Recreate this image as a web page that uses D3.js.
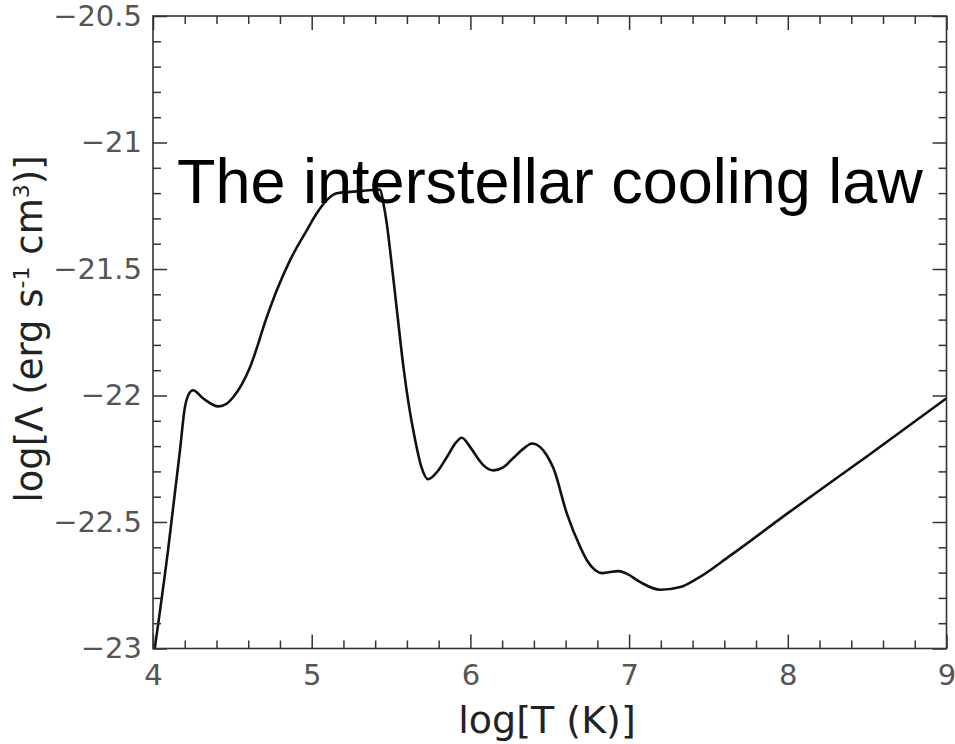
<!DOCTYPE html>
<html>
<head>
<meta charset="utf-8">
<script src="https://cdn.jsdelivr.net/npm/d3@7"></script>
<style>
  html, body { margin: 0; padding: 0; background: #fff; }
  svg { display: block; }
</style>
</head>
<body>
<svg id="chart" width="955" height="744"></svg>
<script>
// ---- Data ----
const logT = [4.0, 4.095, 4.17, 4.20, 4.225, 4.252, 4.317, 4.412, 4.465, 4.506, 4.612, 4.717, 4.78, 4.864, 4.969, 5.032, 5.095, 5.158, 5.242, 5.326, 5.431, 5.452, 5.473, 5.494, 5.537, 5.578, 5.61, 5.65, 5.69, 5.734, 5.789, 5.852, 5.904, 5.946, 5.999, 6.041, 6.083, 6.146, 6.209, 6.272, 6.335, 6.388, 6.44, 6.482, 6.524, 6.608, 6.692, 6.735, 6.787, 6.829, 6.934, 6.987, 7.071, 7.197, 7.323, 7.428, 7.639, 7.998, 8.5, 9.0];
const logLambda = [-23.05, -22.61, -22.217, -22.05, -21.995, -21.979, -22.012, -22.043, -22.032, -22.006, -21.887, -21.69, -21.584, -21.465, -21.347, -21.28, -21.228, -21.201, -21.195, -21.191, -21.186, -21.241, -21.32, -21.426, -21.663, -21.887, -22.03, -22.17, -22.28, -22.331, -22.303, -22.243, -22.19, -22.167, -22.204, -22.243, -22.276, -22.296, -22.283, -22.246, -22.21, -22.19, -22.204, -22.237, -22.289, -22.467, -22.599, -22.652, -22.691, -22.702, -22.694, -22.705, -22.738, -22.768, -22.757, -22.724, -22.632, -22.466, -22.24, -22.011];
const xTickValues = [4, 5, 6, 7, 8, 9];
const yTickValues = [-23, -22.5, -22, -21.5, -21, -20.5];
const yTickLabels = ["\u221223", "\u221222.5", "\u221222", "\u221221.5", "\u221221", "\u221220.5"];
const titleText = "The interstellar cooling law";
const xLabel = "log[T (K)]";

(function () {
const svg = d3.select("#chart");
const pL = 153, pR = 946.5, pT = 16, pB = 648.5;
const x = d3.scaleLinear().domain([4, 9]).range([pL, pR]);
const y = d3.scaleLinear().domain([-23, -20.5]).range([pB, pT]);

const axisColor = "#333";
const majorLen = 14, minorLen = 8;
const tickFont = 29;

const xMinor = d3.range(4, 9.0001, 0.2).map(v => +v.toFixed(2)).filter(v => Math.abs(v - Math.round(v)) > 1e-6);
const yMinor = d3.range(-23, -20.4999, 0.1).map(v => +v.toFixed(2)).filter(v => Math.abs(v * 2 - Math.round(v * 2)) > 1e-6);

svg.append("defs").append("clipPath").attr("id", "plotclip")
  .append("rect").attr("x", pL).attr("y", pT - 2).attr("width", pR - pL).attr("height", pB - pT + 2);

const line = d3.line()
  .x((d, i) => x(logT[i]))
  .y((d, i) => y(logLambda[i]))
  .curve(d3.curveMonotoneX);

svg.append("path")
  .datum(logT)
  .attr("clip-path", "url(#plotclip)")
  .attr("d", line)
  .attr("fill", "none")
  .attr("stroke", "#111")
  .attr("stroke-width", 2.6)
  .attr("stroke-linejoin", "round");

const gAx = svg.append("g");
function styleAxis(g) {
  g.select(".domain").remove();
  g.selectAll("line").attr("stroke", axisColor).attr("stroke-width", 1.5);
}
gAx.append("g").attr("transform", `translate(0,${pB})`)
  .call(d3.axisBottom(x).tickValues(xTickValues).tickSizeInner(-majorLen).tickSizeOuter(0).tickPadding(16).tickFormat(d3.format("d")))
  .call(styleAxis)
  .call(g => g.selectAll("text").attr("font-family", "DejaVu Sans").attr("font-size", tickFont).attr("fill", "#555"));
gAx.append("g").attr("transform", `translate(0,${pB})`)
  .call(d3.axisBottom(x).tickValues(xMinor).tickSizeInner(-minorLen).tickSizeOuter(0).tickFormat(""))
  .call(styleAxis);
gAx.append("g").attr("transform", `translate(0,${pT})`)
  .call(d3.axisTop(x).tickValues(xTickValues).tickSizeInner(-majorLen).tickSizeOuter(0).tickFormat(""))
  .call(styleAxis);
gAx.append("g").attr("transform", `translate(0,${pT})`)
  .call(d3.axisTop(x).tickValues(xMinor).tickSizeInner(-minorLen).tickSizeOuter(0).tickFormat(""))
  .call(styleAxis);
gAx.append("g").attr("transform", `translate(${pL},0)`)
  .call(d3.axisLeft(y).tickValues(yTickValues).tickSizeInner(-majorLen).tickSizeOuter(0).tickPadding(11)
    .tickFormat((d, i) => yTickLabels[i]))
  .call(styleAxis)
  .call(g => g.selectAll("text").attr("font-family", "DejaVu Sans").attr("font-size", tickFont).attr("fill", "#555"));
gAx.append("g").attr("transform", `translate(${pL},0)`)
  .call(d3.axisLeft(y).tickValues(yMinor).tickSizeInner(-minorLen).tickSizeOuter(0).tickFormat(""))
  .call(styleAxis);
gAx.append("g").attr("transform", `translate(${pR},0)`)
  .call(d3.axisRight(y).tickValues(yTickValues).tickSizeInner(-majorLen).tickSizeOuter(0).tickFormat(""))
  .call(styleAxis);
gAx.append("g").attr("transform", `translate(${pR},0)`)
  .call(d3.axisRight(y).tickValues(yMinor).tickSizeInner(-minorLen).tickSizeOuter(0).tickFormat(""))
  .call(styleAxis);

svg.append("rect")
  .attr("x", pL).attr("y", pT).attr("width", pR - pL).attr("height", pB - pT)
  .attr("fill", "none").attr("stroke", axisColor).attr("stroke-width", 1.6);

svg.append("text")
  .attr("x", 547).attr("y", 733)
  .attr("text-anchor", "middle")
  .attr("font-family", "DejaVu Sans").attr("font-size", 38).attr("fill", "#222")
  .text(xLabel);

const yl = svg.append("text")
  .attr("transform", "translate(42,329) rotate(-90)")
  .attr("text-anchor", "middle")
  .attr("font-family", "DejaVu Sans").attr("font-size", 37).attr("fill", "#222");
yl.append("tspan").text("log[\u039B (erg s");
yl.append("tspan").attr("dy", -13).attr("font-size", 22).text("-1");
yl.append("tspan").attr("dy", 13).text(" cm");
yl.append("tspan").attr("dy", -13).attr("font-size", 22).text("3");
yl.append("tspan").attr("dy", 13).text(")]");

svg.append("text")
  .attr("x", 177).attr("y", 203)
  .attr("font-family", "Liberation Sans, Arial, sans-serif").attr("font-size", 63).attr("fill", "#000")
  .text(titleText);
})();
</script>
</body>
</html>
